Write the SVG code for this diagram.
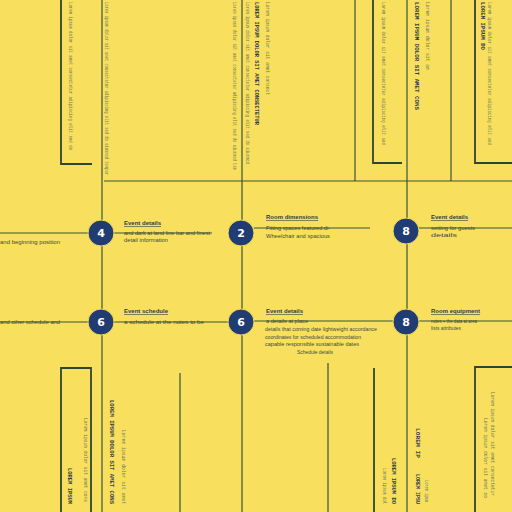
<svg xmlns="http://www.w3.org/2000/svg" width="512" height="512" viewBox="0 0 512 512">
<style>
.ln{stroke:#3a5238;stroke-width:1.2;fill:none}
.lnb{stroke:#2c4634;stroke-width:1.8;fill:none}
.nc{fill:#203c73;stroke:#f5dc55;stroke-width:1}
.nt{font-family:"DejaVu Sans",sans-serif;font-size:11px;font-weight:bold;fill:#ffffff;text-anchor:middle}
.tt{font-family:"Liberation Sans",sans-serif;font-size:6px;font-weight:bold;fill:#2e3f44;text-decoration:underline}
.tx{font-family:"Liberation Sans",sans-serif;font-size:5px;fill:#3b4a3e}
.vb{font-family:"Liberation Mono",monospace;font-size:5.5px;font-weight:bold;fill:#34404a}
.vl{font-family:"Liberation Mono",monospace;font-size:4.5px;fill:#6d7a55}
.bgl{fill:#f8e05e}
</style>
<rect class="bgl" x="0" y="0" width="512" height="512"/>
<g id="connectors">
<line class="ln" x1="102" y1="0" x2="102" y2="512"/>
<line class="ln" x1="242" y1="0" x2="242" y2="512"/>
<line class="ln" x1="407" y1="0" x2="407" y2="512"/>
<line class="ln" x1="355" y1="0" x2="355" y2="181"/>
<line class="ln" x1="451" y1="0" x2="451" y2="181"/>
<line class="ln" x1="104" y1="181" x2="512" y2="181"/>
<polyline class="lnb" points="61,0 61,164 92,164"/>
<polyline class="lnb" points="373,0 373,163 402,163"/>
<polyline class="lnb" points="475,0 475,163 512,163"/>
<polyline class="lnb" points="61,512 61,368 91,368 91,512"/>
<polyline class="lnb" points="475,512 475,367 512,367"/>
<line class="ln" x1="180" y1="373" x2="180" y2="512"/>
<line class="ln" x1="328" y1="363" x2="328" y2="512"/>
<line class="lnb" x1="374" y1="368" x2="374" y2="512"/>
<line class="ln" x1="0" y1="233" x2="88" y2="233"/>
<line class="ln" x1="114" y1="233" x2="212" y2="233"/>
<line class="ln" x1="254" y1="228" x2="370" y2="228"/>
<line class="ln" x1="419" y1="228" x2="512" y2="228"/>
<line class="ln" x1="0" y1="322" x2="88" y2="322"/>
<line class="ln" x1="114" y1="322" x2="228" y2="322"/>
<line class="ln" x1="254" y1="321" x2="393" y2="321"/>
<line class="ln" x1="419" y1="321" x2="512" y2="321"/>
</g>
<g id="vtext">
<text class="vl" transform="translate(69,2) rotate(90)" textLength="148" lengthAdjust="spacingAndGlyphs">Lorem ipsum dolor sit amet consectetur adipiscing elit sed do</text>
<text class="vl" transform="translate(105,2) rotate(90)" textLength="173" lengthAdjust="spacingAndGlyphs">Lorem ipsum dolor sit amet consectetur adipiscing elit sed do eiusmod tempor</text>
<text class="vl" transform="translate(233,2) rotate(90)" textLength="168" lengthAdjust="spacingAndGlyphs">Lorem ipsum dolor sit amet consectetur adipiscing elit sed do eiusmod tem</text>
<text class="vl" transform="translate(246,2) rotate(90)" textLength="162" lengthAdjust="spacingAndGlyphs">Lorem ipsum dolor sit amet consectetur adipiscing elit sed do eiusmod</text>
<text class="vb" transform="translate(255,2) rotate(90)" textLength="123" lengthAdjust="spacingAndGlyphs">LOREM IPSUM DOLOR SIT AMET CONSECTETUR</text>
<text class="vl" transform="translate(266,2) rotate(90)" textLength="93" lengthAdjust="spacingAndGlyphs">Lorem ipsum dolor sit amet consect</text>
<text class="vl" transform="translate(382,2) rotate(90)" textLength="143" lengthAdjust="spacingAndGlyphs">Lorem ipsum dolor sit amet consectetur adipiscing elit sed</text>
<text class="vb" transform="translate(415,2) rotate(90)" textLength="108" lengthAdjust="spacingAndGlyphs">LOREM IPSUM DOLOR SIT AMET CONS</text>
<text class="vl" transform="translate(426,2) rotate(90)" textLength="68" lengthAdjust="spacingAndGlyphs">Lorem ipsum dolor sit am</text>
<text class="vb" transform="translate(481,2) rotate(90)" textLength="48" lengthAdjust="spacingAndGlyphs">LOREM IPSUM DO</text>
<text class="vl" transform="translate(488,2) rotate(90)" textLength="143" lengthAdjust="spacingAndGlyphs">Lorem ipsum dolor sit amet consectetur adipiscing elit sed</text>
<text class="vb" transform="translate(68,468) rotate(90)" textLength="36" lengthAdjust="spacingAndGlyphs">LOREM IPSUM</text>
<text class="vl" transform="translate(84,418) rotate(90)" textLength="84" lengthAdjust="spacingAndGlyphs">Lorem ipsum dolor sit amet cons</text>
<text class="vb" transform="translate(110,400) rotate(90)" textLength="104" lengthAdjust="spacingAndGlyphs">LOREM IPSUM DOLOR SIT AMET CONS</text>
<text class="vl" transform="translate(122,430) rotate(90)" textLength="74" lengthAdjust="spacingAndGlyphs">Lorem ipsum dolor sit amet</text>
<text class="vl" transform="translate(383,468) rotate(90)" textLength="36" lengthAdjust="spacingAndGlyphs">Lorem ipsum dol</text>
<text class="vb" transform="translate(392,458) rotate(90)" textLength="46" lengthAdjust="spacingAndGlyphs">LOREM IPSUM DO</text>
<text class="vb" transform="translate(416,428) rotate(90)" textLength="30" lengthAdjust="spacingAndGlyphs">LOREM IP</text>
<text class="vb" transform="translate(416,474) rotate(90)" textLength="30" lengthAdjust="spacingAndGlyphs">LOREM IPSU</text>
<text class="vl" transform="translate(425,480) rotate(90)" textLength="22" lengthAdjust="spacingAndGlyphs">Lorem ipsu</text>
<text class="vl" transform="translate(491,392) rotate(90)" textLength="104" lengthAdjust="spacingAndGlyphs">Lorem ipsum dolor sit amet consectetur</text>
<text class="vl" transform="translate(484,418) rotate(90)" textLength="80" lengthAdjust="spacingAndGlyphs">Lorem ipsum dolor sit amet co</text>
</g>
<g id="node4">
<circle class="nc" cx="101" cy="233" r="13"/>
<text class="nt" x="101" y="237">4</text>
<text class="tt" x="124" y="225">Event details</text>
<text class="tx" x="124" y="235" textLength="86" lengthAdjust="spacingAndGlyphs">and dark at land line bar and finest</text>
<text class="tx" x="124" y="242" textLength="44" lengthAdjust="spacingAndGlyphs">detail information</text>
<text class="tx" x="0" y="244" textLength="60" lengthAdjust="spacingAndGlyphs">and beginning position</text>
</g>
<g id="node2">
<circle class="nc" cx="241" cy="233" r="13"/>
<text class="nt" x="241" y="237">2</text>
<text class="tt" x="266" y="219">Room dimensions</text>
<text class="tx" x="266" y="230" textLength="64" lengthAdjust="spacingAndGlyphs">Fitting spaces featured di-</text>
<text class="tx" x="266" y="238" textLength="64" lengthAdjust="spacingAndGlyphs">Wheelchair and spacious</text>
</g>
<g id="node8">
<circle class="nc" cx="406" cy="231" r="13"/>
<text class="nt" x="406" y="235">8</text>
<text class="tt" x="431" y="219">Event details</text>
<text class="tx" x="431" y="230" textLength="44" lengthAdjust="spacingAndGlyphs">setting for guests</text>
<text class="tx" x="431" y="237" textLength="26" lengthAdjust="spacingAndGlyphs">details</text>
</g>
<g id="node6a">
<circle class="nc" cx="101" cy="322" r="13"/>
<text class="nt" x="101" y="326">6</text>
<text class="tt" x="124" y="313">Event schedule</text>
<text class="tx" x="124" y="324" textLength="80" lengthAdjust="spacingAndGlyphs">a schedule at the notes to be</text>
<text class="tx" x="0" y="324" textLength="60" lengthAdjust="spacingAndGlyphs">and other schedule and</text>
</g>
<g id="node6b">
<circle class="nc" cx="241" cy="322" r="13"/>
<text class="nt" x="241" y="326">6</text>
<text class="tt" x="266" y="313">Event details</text>
<text class="tx" x="266" y="323" textLength="42" lengthAdjust="spacingAndGlyphs">a details at place</text>
<text class="tx" x="265" y="331" textLength="112" lengthAdjust="spacingAndGlyphs">details that coming date lightweight accordance</text>
<text class="tx" x="265" y="339" textLength="96" lengthAdjust="spacingAndGlyphs">coordinates for scheduled accommodation</text>
<text class="tx" x="265" y="346" textLength="94" lengthAdjust="spacingAndGlyphs">capable responsible sustainable dates</text>
<text class="tx" x="297" y="354" textLength="36" lengthAdjust="spacingAndGlyphs">Schedule details</text>
</g>
<g id="node8b">
<circle class="nc" cx="406" cy="322" r="13"/>
<text class="nt" x="406" y="326">8</text>
<text class="tt" x="431" y="313">Room equipment</text>
<text class="tx" x="431" y="323" textLength="46" lengthAdjust="spacingAndGlyphs">notes + the data at area</text>
<text class="tx" x="431" y="330" textLength="30" lengthAdjust="spacingAndGlyphs">lists attributes</text>
</g>
</svg>
